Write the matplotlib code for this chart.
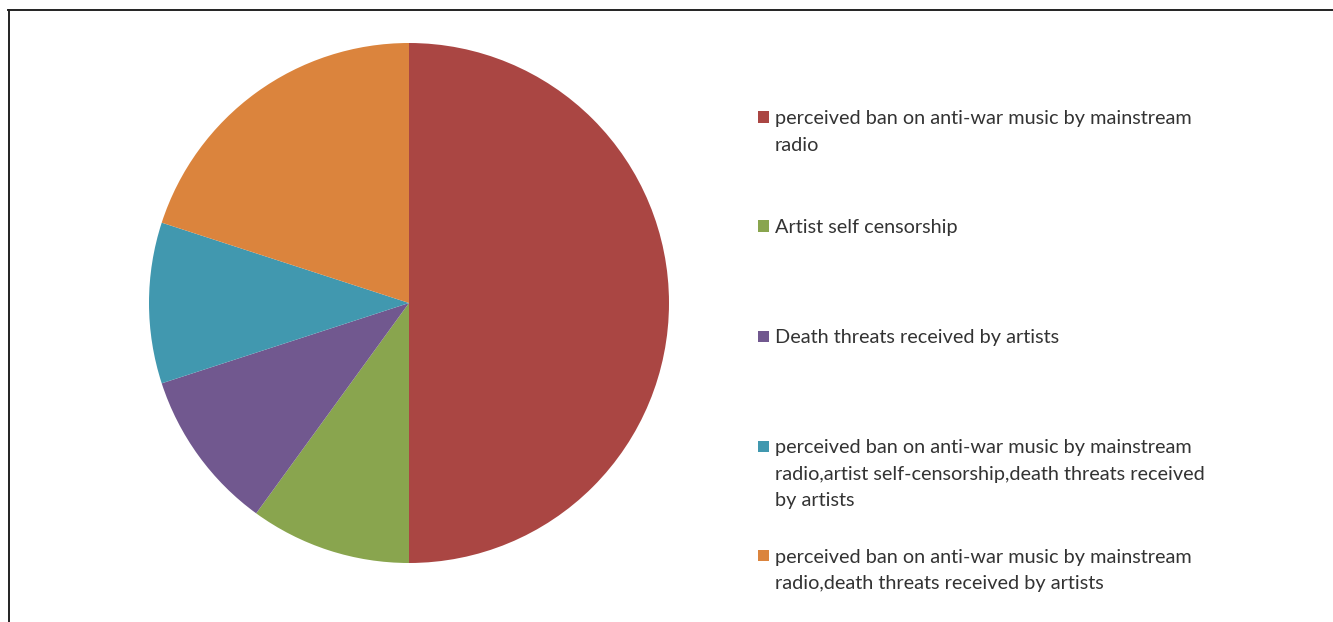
import matplotlib
matplotlib.use("Agg")
import matplotlib.pyplot as plt
from matplotlib.patches import Rectangle
from matplotlib.lines import Line2D

labels = [
    "perceived ban on anti-war music by mainstream\nradio",
    "Artist self censorship",
    "Death threats received by artists",
    "perceived ban on anti-war music by mainstream\nradio,artist self-censorship,death threats received\nby artists",
    "perceived ban on anti-war music by mainstream\nradio,death threats received by artists",
]
values = [50, 10, 10, 10, 20]
colors = ["#AA4643", "#89A54E", "#71588F", "#4198AF", "#DB843D"]

W, H = 1333, 622
fig = plt.figure(figsize=(W / 100, H / 100), dpi=100)
fig.patch.set_facecolor("white")

# pie axes: center (409,303), radius 260 px
cx, cy, r = 409, 303, 260
ax = fig.add_axes([(cx - r) / W, (H - cy - r) / H, 2 * r / W, 2 * r / H])
ax.pie(values, colors=colors, startangle=90, counterclock=False, radius=1,
       wedgeprops=dict(linewidth=0))
ax.set_xlim(-1, 1)
ax.set_ylim(-1, 1)
ax.set_aspect("equal")
ax.axis("off")

# frame (left and top border)
fig.add_artist(Line2D([8.5 / W, 8.5 / W], [0, 1 - 9.5 / H], transform=fig.transFigure,
                      color="#222222", linewidth=1.4))
fig.add_artist(Line2D([8 / W, 1], [1 - 9.5 / H, 1 - 9.5 / H], transform=fig.transFigure,
                      color="#222222", linewidth=1.4))

# legend
entry_y = [117, 226, 336, 446, 555]  # first line center in px from top
mx, msz = 758, 11
tx = 775
for lab, col, y in zip(labels, colors, entry_y):
    fig.add_artist(Rectangle(((mx) / W, (H - y - msz / 2) / H), msz / W, msz / H,
                             transform=fig.transFigure, facecolor=col, edgecolor="none"))
    fig.text(tx / W, (H - y + 6.5) / H, lab, ha="left", va="top", fontsize=14.3,
             family="Lato", color="#333333", linespacing=1.67)

fig.savefig("out.png", dpi=100)
